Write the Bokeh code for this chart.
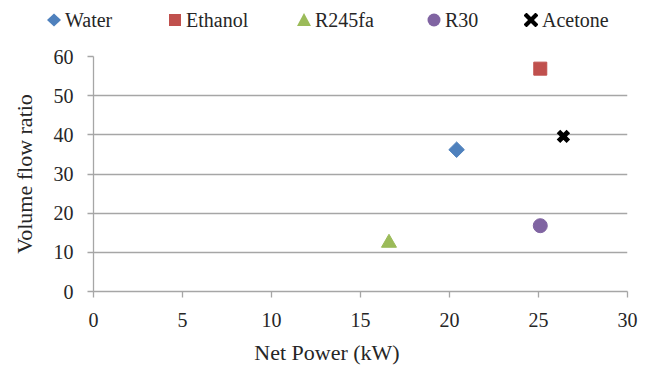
import math
from bokeh.plotting import figure
from bokeh.models import Range1d, FixedTicker, Div
from bokeh.layouts import column
from bokeh.embed import file_html
from bokeh.resources import INLINE

fluids = ["Water", "Ethanol", "R245fa", "R30", "Acetone"]
net_power = [20.4, 25.1, 16.6, 25.1, 26.4]
volume_flow_ratio = [36.2, 56.9, 12.4, 16.8, 39.6]
markers = ["square", "square", "triangle", "circle", "x"]
angles = [math.pi / 4, 0, 0, 0, 0]
colors = ["#4F81BD", "#C0504D", "#9BBB59", "#8064A2", "#000000"]
x_ticks = [0, 5, 10, 15, 20, 25, 30]
y_ticks = [0, 10, 20, 30, 40, 50, 60]
x_title = "Net Power (kW)"
y_title = "Volume flow ratio"

FONT = "Liberation Serif"
CSS_FONT = "'Liberation Serif', 'Times New Roman', Times, serif !important"
TXT = "#262626"
GRAY = "#A6A6A6"
SIZES = {"square": 13, "triangle": 15, "circle": 14, "x": 14}

# ---- legend (HTML strip on top) ----
legend_marker_x = [54, 175, 304, 434, 531]   # pixel layout of the legend entries
legend_text_gap = 11
svg_shapes = {
    "diamond": '<polygon points="7,0.5 14,7 7,13.5 0,7" fill="{c}"/>',
    "square": '<rect x="1" y="1" width="12" height="12" fill="{c}"/>',
    "triangle": '<polygon points="7,0 14,13 0,13" fill="{c}"/>',
    "circle": '<circle cx="7" cy="7" r="6.5" fill="{c}"/>',
    "x": '<path d="M2.5,2.5 L11.5,11.5 M11.5,2.5 L2.5,11.5" stroke="{c}" '
         'stroke-width="4.2" stroke-linecap="square"/>',
}
parts = []
for name, m, a, c, cx in zip(fluids, markers, angles, colors, legend_marker_x):
    key = "diamond" if a else m
    shape = svg_shapes[key].replace("{c}", c)
    parts.append(
        f'<svg width="14" height="14" style="position:absolute;left:{cx - 7}px;top:12.5px;">'
        f'{shape}</svg>'
        f'<span style="position:absolute;left:{cx + legend_text_gap}px;top:9.5px;'
        f'line-height:20px;font-family:{CSS_FONT};font-size:20px;color:{TXT};'
        f'white-space:nowrap;">{name}</span>'
    )
legend_div = Div(text='<div style="position:relative;width:650px;height:40px;">'
                      + "".join(parts) + "</div>",
                 width=650, height=40, margin=0)

# ---- main plot ----
p = figure(width=650, height=298, output_backend="svg", toolbar_location=None,
           x_range=Range1d(0, 30), y_range=Range1d(0, 60),
           min_border_left=93, min_border_right=23, min_border_top=16, min_border_bottom=47)
p.outline_line_color = None
p.xgrid.grid_line_color = None
p.ygrid.grid_line_color = GRAY
p.ygrid.grid_line_width = 1.3

for ax, ticks in ((p.xaxis, x_ticks), (p.yaxis, y_ticks)):
    ax.ticker = FixedTicker(ticks=ticks)
    ax.axis_line_color = GRAY
    ax.axis_line_width = 1.3
    ax.major_tick_line_color = GRAY
    ax.major_tick_line_width = 1.3
    ax.major_tick_in = 0
    ax.major_tick_out = 6
    ax.minor_tick_line_color = None
    ax.major_label_text_font = FONT
    ax.major_label_text_font_size = "20px"
    ax.major_label_text_color = TXT
    ax.axis_label_text_font = FONT
    ax.axis_label_text_font_size = "22px"
    ax.axis_label_text_font_style = "normal"
    ax.axis_label_text_color = TXT

p.xaxis.major_label_standoff = 15
p.yaxis.major_label_standoff = 14
p.yaxis.axis_label = y_title
p.yaxis.axis_label_standoff = 14

for xv, yv, m, a, c in zip(net_power, volume_flow_ratio, markers, angles, colors):
    size = 11 if a else SIZES[m]
    if m == "x":
        p.scatter([xv], [yv], marker=m, size=size, line_color=c, line_width=5)
    else:
        p.scatter([xv], [yv], marker=m, size=size, angle=a, fill_color=c, line_color=c)

# ---- x title (HTML strip at bottom) ----
title_div = Div(text='<div style="position:relative;width:650px;height:32px;">'
                     f'<span style="position:absolute;left:327px;top:4px;transform:translateX(-50%);'
                     f'line-height:22px;font-family:{CSS_FONT};font-size:22px;color:{TXT};'
                     f'white-space:nowrap;">{x_title}</span></div>',
                width=650, height=32, margin=0)

layout = column(legend_div, p, title_div, spacing=0)
open("out.html", "w").write(file_html(layout, INLINE))
